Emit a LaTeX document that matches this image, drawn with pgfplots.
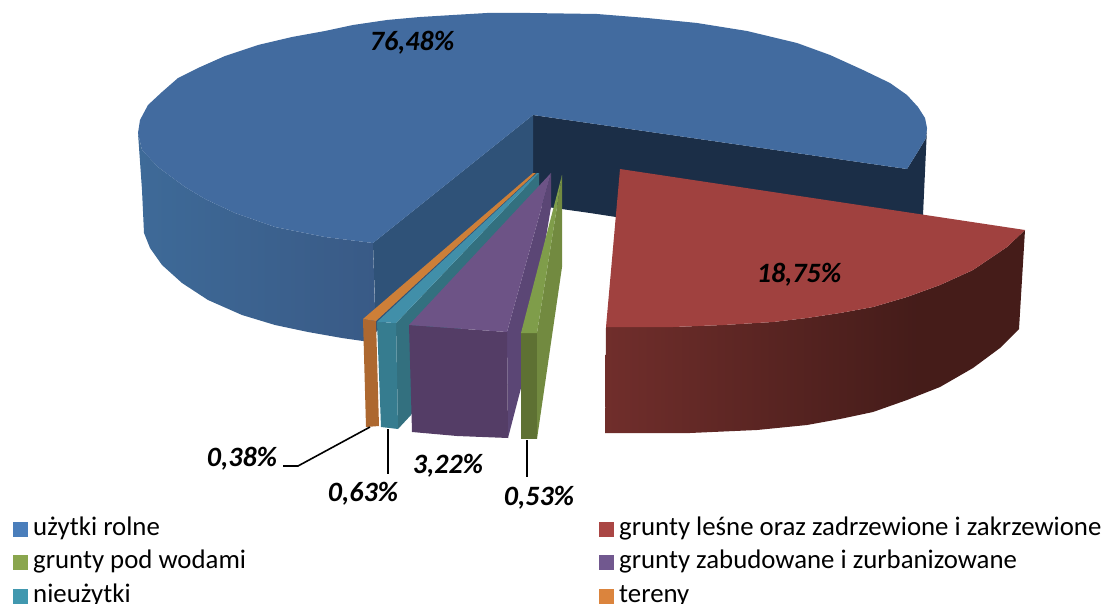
\documentclass[border=0pt]{standalone}
\usepackage{pgfplots}
\pgfplotsset{compat=1.18}
\usepackage{fontspec}
\setmainfont{Carlito}
\definecolor{cblue}{HTML}{426B9F}
\definecolor{cred}{HTML}{A0413F}
\definecolor{cgreen}{HTML}{7F9D4A}
\definecolor{cpurple}{HTML}{6D5386}
\definecolor{cteal}{HTML}{418FA9}
\definecolor{corange}{HTML}{CD7F38}
\definecolor{cnavy}{HTML}{1B2E47}
\definecolor{cwall}{HTML}{2F5278}
\definecolor{cbsl}{HTML}{3E6A98}
\definecolor{cbsr}{HTML}{395A86}
\definecolor{cgw}{HTML}{728A40}
\definecolor{cpw}{HTML}{5B4675}
\definecolor{ctw}{HTML}{33707F}
\definecolor{cow}{HTML}{A86A33}
\definecolor{cof}{HTML}{AD6830}
\definecolor{ctf}{HTML}{367C8F}
\definecolor{cpf}{HTML}{543D66}
\definecolor{cgf}{HTML}{5E7133}
\definecolor{lblue}{HTML}{4A7EBB}
\definecolor{lred}{HTML}{AA4644}
\definecolor{lgreen}{HTML}{8AA64E}
\definecolor{lpurple}{HTML}{71588F}
\definecolor{lteal}{HTML}{4198AF}
\definecolor{lorange}{HTML}{DB843D}
\pgfdeclarehorizontalshading{redside}{100bp}{rgb(0bp)=(0.44,0.18,0.17); rgb(25bp)=(0.44,0.18,0.17); rgb(62bp)=(0.27,0.11,0.10); rgb(75bp)=(0.27,0.11,0.10); rgb(100bp)=(0.27,0.11,0.10)}
\newcommand{\poly}[2]{\addplot[fill=#1,draw=none,forget plot] coordinates {#2} --cycle;}
\newcommand{\lab}[3]{\node[font=\fontsize{28bp}{30bp}\selectfont\bfseries\itshape] at (axis cs:#1,#2) {#3};}
\begin{document}
\begin{tikzpicture}
\path[use as bounding box,clip] (0,0) rectangle (1105bp,604bp);
\begin{axis}[at={(0,0)},anchor=south west,scale only axis,width=1105bp,height=604bp,
  xmin=0,xmax=1105,ymin=0,ymax=604,y dir=reverse,hide axis,clip=false,
  legend columns=2,
  legend style={draw=none,fill=none,at={(axis cs:13,517)},anchor=north west,
    font=\fontsize{26.8bp}{28bp}\selectfont,inner sep=0pt,row sep=9.5bp,
    nodes={text height=18bp,text depth=6bp,inner xsep=0pt,inner ysep=0pt},
    /tikz/column 1/.style={column sep=5bp},
    /tikz/column 2/.style={column sep=0bp},
    /tikz/column 3/.style={column sep=5bp}},
  legend cell align=left]
% blue outer side
\addplot[left color=cbsl,right color=cbsr,draw=none,forget plot] coordinates {
(138,133)(142,150)(158,167)(185,187)(205,199)(235,213)(275,227)(325,237)(373,243)(376,345)
(363,341)(342,338)(308,332)(275,325)(242,315)(208,300)(182,283)(162,265)(150,248)(144,233)(142,190)} --cycle;
% navy wall
\poly{cnavy}{(533,115)(907,169)(917,153)(926,138)(927,128)(923,215)(800,245)(616,217)(590,213)(533,205)}
% inner blue wall
\poly{cwall}{(533,115)(373,243)(376,332)(533,180)}
% blue top
\poly{cblue}{(533,115)(373,243)(325,237)(275,227)(235,213)(205,199)(185,187)(158,167)(142,150)(138,133)
(140,120)(148,105)(162,92)(178,78)(198,68)(225,56)(258,45)(292,37)(325,31)(353,25)(387,20)(420,17)(453,15)(487,13)(530,13)
(597,14)(647,18)(697,23)(747,31)(797,43)(830,55)(863,70)(890,83)(907,95)(918,107)(925,118)(927,128)(926,138)(917,153)(907,169)}
% green
\poly{cgw}{(537,333)(562,175)(562,267)(537,439)}
% purple wall
\poly{cpw}{(507,332)(551,173)(551,207)(521,388)(508,438)}
% teal wall
\poly{ctw}{(396,323)(539,173)(539,193)(411,415)(398,429)}
% orange
\poly{cof}{(363,319)(376,321)(379,426)(366,427)}
\poly{corange}{(363,319)(376,321)(536,173)(533,173)}
% teal
\poly{ctf}{(377,322)(396,323)(398,429)(381,427)}
\poly{cteal}{(377,322)(396,323)(539,173)(537,173)}
% purple
\poly{cpf}{(409,325)(507,332)(508,438)(457,436)(412,432)}
\poly{cpurple}{(409,325)(507,332)(551,173)}
% green front & top
\poly{cgf}{(521,333)(537,333)(537,439)(521,439)}
\poly{cgreen}{(521,333)(537,333)(562,175)}
% red side
\addplot[shading=redside,draw=none,forget plot] coordinates {
(606,327)(673,327)(723,325)(773,322)(807,318)(840,313)(873,307)(907,297)(940,285)(973,270)(1007,247)(1025,230)
(1019,329)(1000,348)(973,368)(940,387)(907,400)(873,412)(840,419)(807,425)(757,430)(690,433)(605,433)} --cycle;
% red top
\poly{cred}{(620,169)(1025,230)(1007,247)(973,270)(940,285)(907,297)(873,307)(840,313)(807,318)(773,322)(723,325)(673,327)(606,327)}
% leaders
\addplot[black,line width=1.6pt,forget plot] coordinates {(283,466)(298,466)(370,427)};
\addplot[black,line width=1.6pt,forget plot] coordinates {(388,429)(388,474)};
\addplot[black,line width=1.6pt,forget plot] coordinates {(527,440)(527,477)};
\lab{412}{42.5}{76,48\%}
\lab{799}{275}{18,75\%}
\lab{448}{466}{3,22\%}
\lab{242}{459}{0,38\%}
\lab{363}{494}{0,63\%}
\lab{539}{498}{0,53\%}
\pgfplotsset{legend image code/.code={\fill[#1] (0bp,-7.5bp) rectangle (15bp,7.5bp);}}
\addlegendimage{fill=lblue,draw=none}\addlegendentry{\makebox[566bp][l]{użytki rolne}}
\addlegendimage{fill=lred,draw=none}\addlegendentry{grunty leśne oraz zadrzewione i zakrzewione}
\addlegendimage{fill=lgreen,draw=none}\addlegendentry{grunty pod wodami}
\addlegendimage{fill=lpurple,draw=none}\addlegendentry{grunty zabudowane i zurbanizowane}
\addlegendimage{fill=lteal,draw=none}\addlegendentry{nieużytki}
\addlegendimage{fill=lorange,draw=none}\addlegendentry{tereny}
\end{axis}
\end{tikzpicture}
\end{document}
